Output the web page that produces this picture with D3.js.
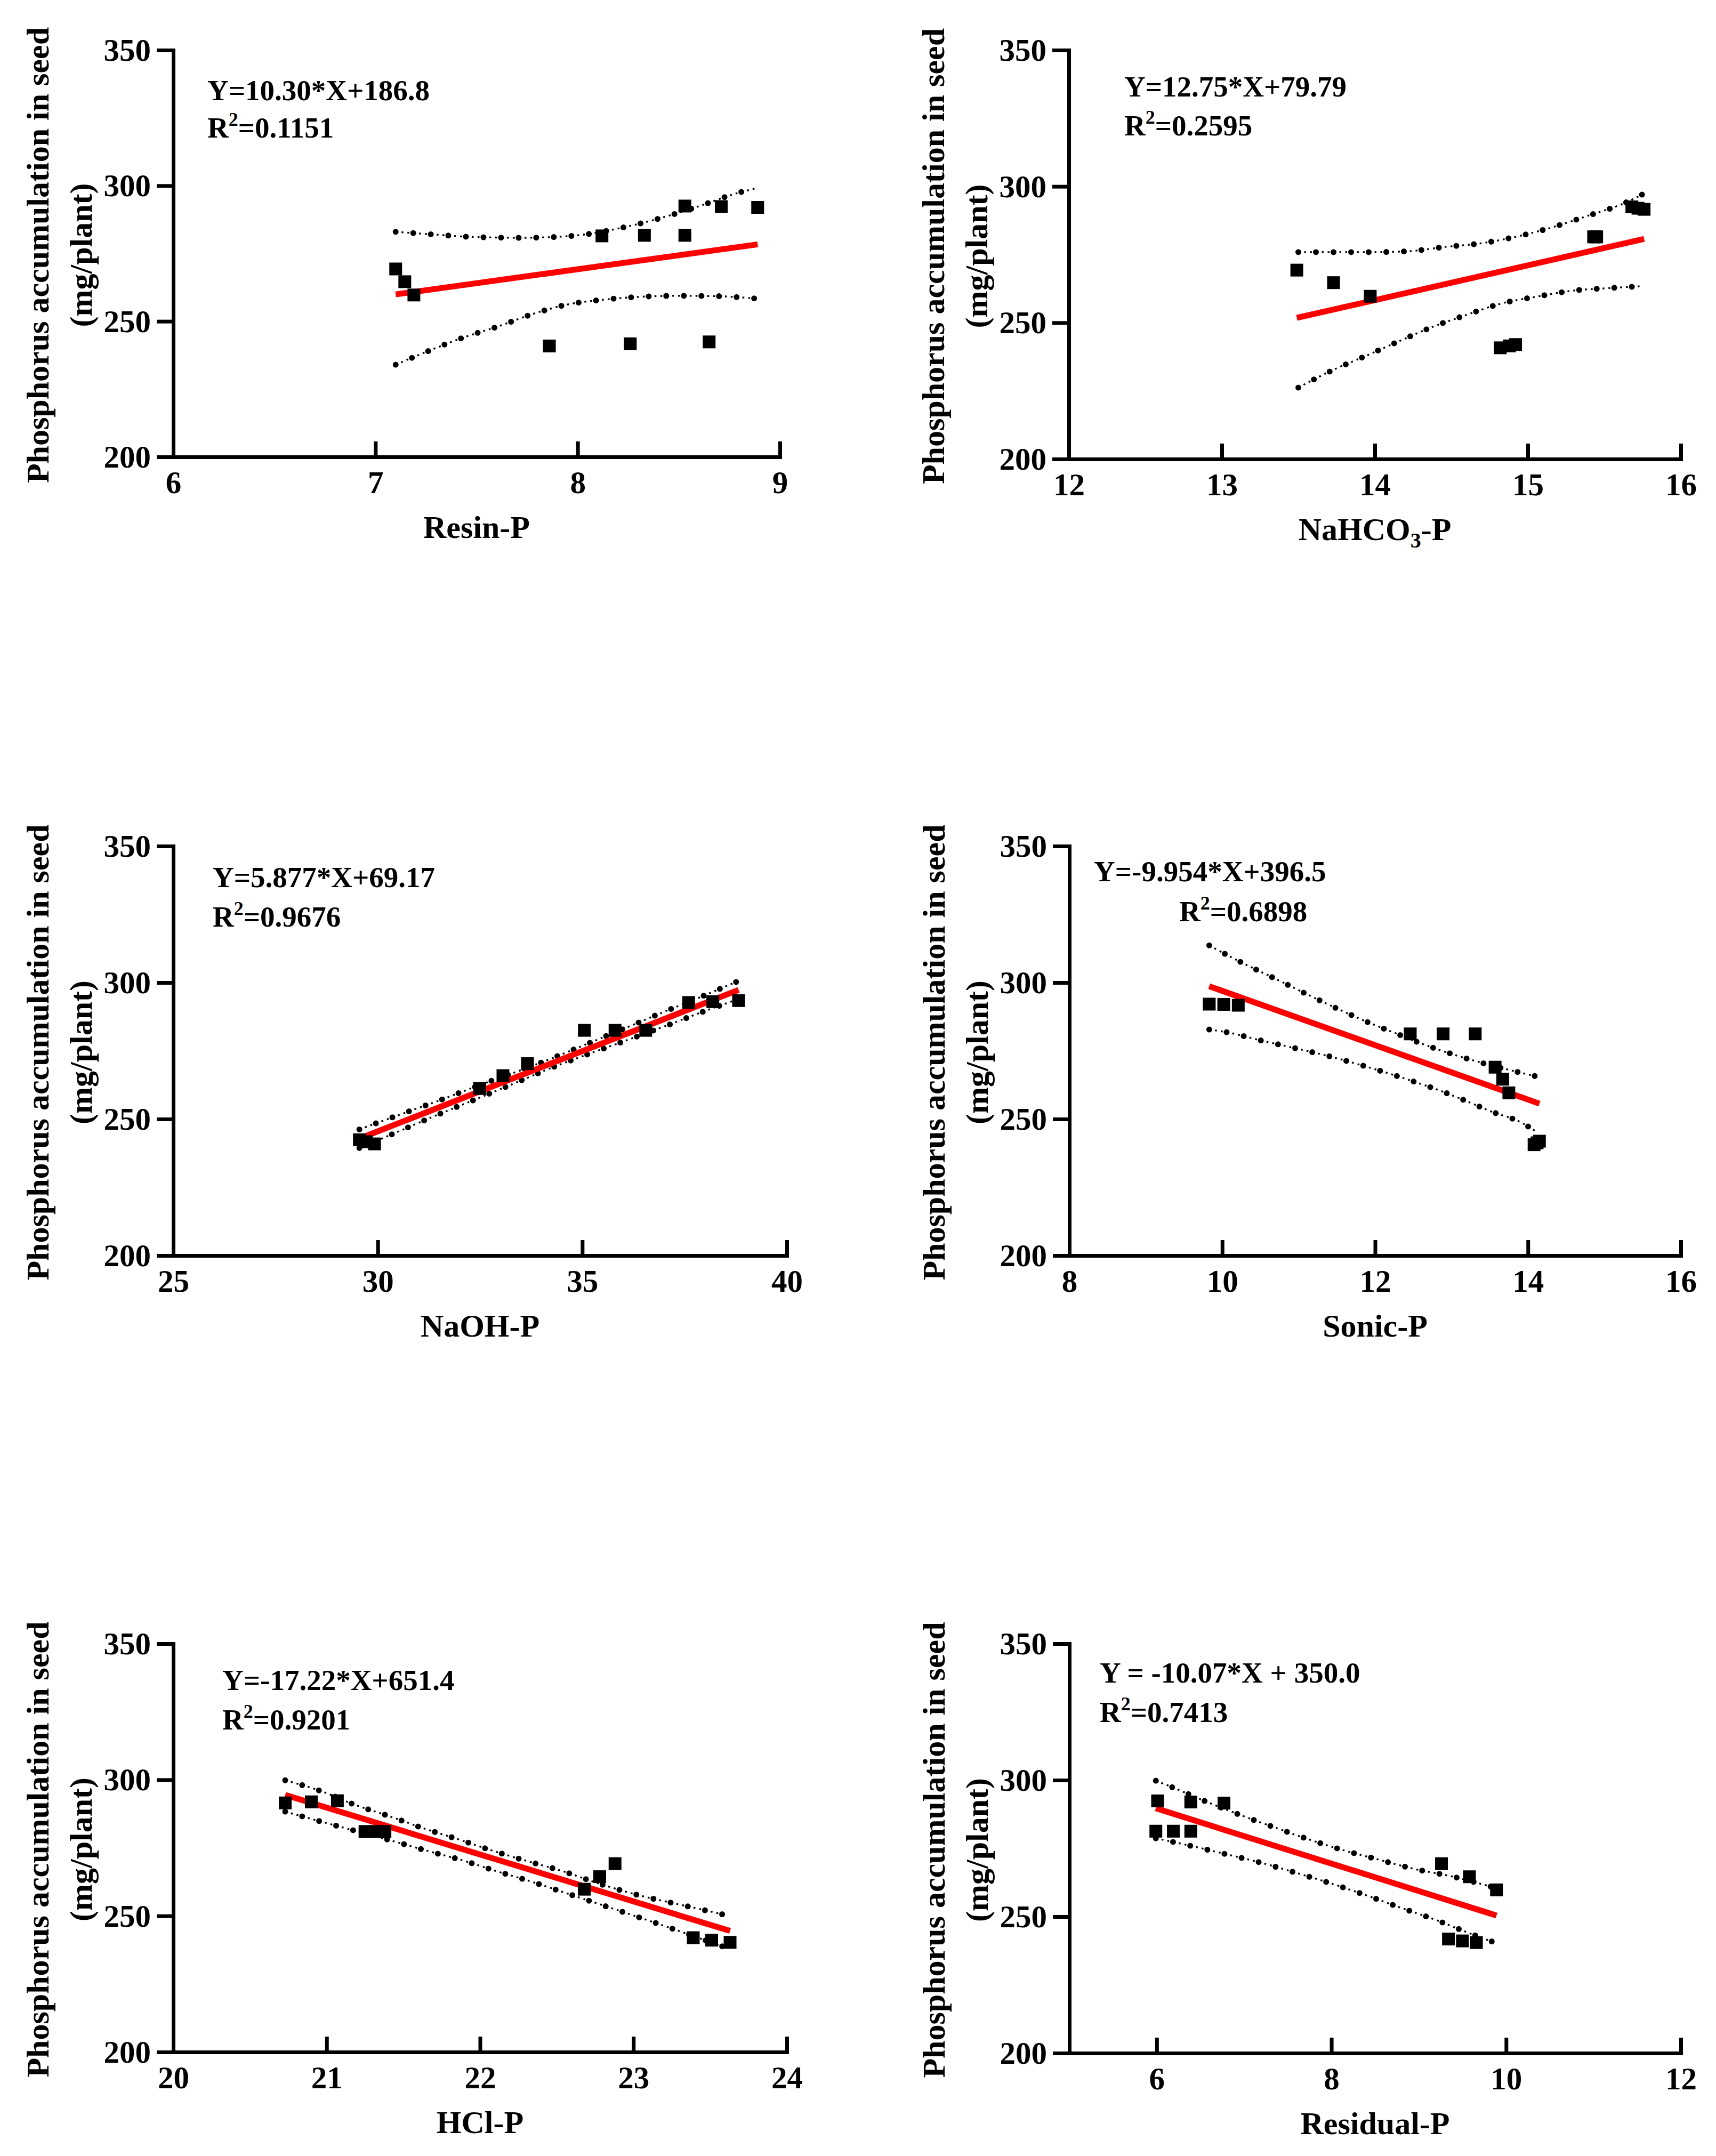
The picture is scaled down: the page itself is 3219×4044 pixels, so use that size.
<!DOCTYPE html>
<html>
<head>
<meta charset="utf-8">
<script src="https://cdn.jsdelivr.net/npm/d3@7"></script>
<style>
  html, body { margin: 0; padding: 0; background: #ffffff; }
  svg { display: block; }
  text { font-family: "Liberation Serif", "Times New Roman", serif; font-weight: bold; fill: #000; }
</style>
</head>
<body>
<script>
// ---------------- DATA ----------------
const yTitle1 = "Phosphorus accumulation in seed";
const yTitle2 = "(mg/plant)";
const xTitles = ["Resin-P", "NaHCO|3|-P", "NaOH-P", "Sonic-P", "HCl-P", "Residual-P"];
const yDomain = [200, 350];
const yTicks = [200, 250, 300, 350];
const xDomains = [[6, 9], [12, 16], [25, 40], [8, 16], [20, 24], [5, 12]];
const xTicks = [[6, 7, 8, 9], [12, 13, 14, 15, 16], [25, 30, 35, 40], [8, 10, 12, 14, 16], [20, 21, 22, 23, 24], [6, 8, 10, 12]];
const equations = ["Y=10.30*X+186.8", "Y=12.75*X+79.79", "Y=5.877*X+69.17", "Y=-9.954*X+396.5", "Y=-17.22*X+651.4", "Y = -10.07*X + 350.0"];
const r2Values = ["0.1151", "0.2595", "0.9676", "0.6898", "0.9201", "0.7413"];
const slopes = [10.30, 12.75, 5.877, -9.954, -17.22, -10.07];
const intercepts = [186.8, 79.79, 69.17, 396.5, 651.4, 350.0];

const pointsX = [
  [7.10, 7.145, 7.19, 7.86, 8.26, 8.65, 8.12, 8.33, 8.53, 8.53, 8.71, 8.89],
  [13.49, 13.73, 13.97, 14.82, 14.88, 14.92, 15.43, 15.44, 15.45, 15.68, 15.72, 15.76],
  [32.49, 33.06, 33.66, 29.55, 29.72, 29.92, 35.05, 35.80, 36.55, 37.60, 38.19, 38.82],
  [9.83, 10.02, 10.21, 12.46, 12.89, 13.31, 13.57, 13.67, 13.75, 14.08, 14.12, 14.15],
  [20.73, 20.90, 21.07, 21.25, 21.32, 21.38, 22.68, 22.78, 22.88, 23.39, 23.51, 23.63],
  [6.01, 6.39, 6.77, 5.99, 6.19, 6.39, 9.26, 9.58, 9.89, 9.34, 9.50, 9.66]
];
const pointsY = [
  [269.3, 264.6, 259.7, 240.9, 241.7, 242.4, 281.5, 281.7, 281.7, 292.5, 292.3, 292.0],
  [269.3, 264.7, 259.7, 240.8, 241.5, 242.0, 281.5, 281.5, 281.5, 292.5, 292.0, 291.6],
  [261.2, 265.9, 270.3, 242.4, 241.7, 240.9, 282.5, 282.5, 282.5, 292.7, 293.0, 293.4],
  [292.1, 292.0, 291.7, 281.2, 281.2, 281.2, 269.0, 264.6, 259.6, 240.6, 241.3, 241.9],
  [291.5, 291.9, 292.3, 281.0, 281.0, 281.0, 259.8, 264.4, 269.2, 242.0, 241.1, 240.3],
  [292.4, 292.0, 291.6, 281.3, 281.3, 281.3, 269.4, 264.6, 259.8, 241.8, 241.1, 240.5]
];

// 95% confidence bands
const upperBands = [
  [[7.10,283.0],[7.29,282.0],[7.45,281.2],[7.72,280.8],[7.91,281.2],[8.00,281.7],[8.26,285.2],[8.44,288.7],[8.61,292.7],[8.79,297.3],[8.88,299.0]],
  [[13.50,275.9],[13.74,275.9],[13.97,275.9],[14.21,276.2],[14.46,277.8],[14.69,279.1],[14.92,281.5],[15.16,285.0],[15.39,289.2],[15.62,293.6],[15.75,297.1]],
  [[29.55,246.2],[30.5,251.4],[31.5,256.8],[32.5,262.5],[33.5,267.9],[34.2,271.9],[35.0,276.8],[36.0,283.0],[37.0,289.3],[38.0,295.4],[38.82,300.6]],
  [[9.83,313.6],[10.25,307.4],[10.68,301.6],[11.11,295.7],[11.54,290.0],[11.98,284.6],[12.20,282.2],[12.64,277.3],[13.10,273.0],[13.33,271.1],[13.74,268.1],[14.13,265.5]],
  [[20.73,299.8],[20.98,295.5],[21.18,290.9],[21.41,286.6],[21.63,282.2],[21.86,278.1],[22.09,273.8],[22.31,270.1],[22.54,266.4],[22.78,261.8],[23.02,257.8],[23.25,254.8],[23.48,251.9],[23.61,250.2]],
  [[5.99,299.8],[6.17,297.5],[6.56,292.2],[6.95,287.3],[7.34,282.8],[7.74,278.3],[8.13,274.4],[8.54,270.9],[8.93,267.6],[9.37,264.8],[9.87,260.6]]
];
const lowerBands = [
  [[7.10,234.0],[7.27,239.3],[7.43,243.9],[7.61,248.2],[7.77,252.5],[7.95,256.2],[8.13,258.0],[8.30,259.0],[8.49,259.4],[8.67,259.3],[8.88,258.4]],
  [[13.50,226.2],[13.72,232.5],[13.94,237.8],[14.15,243.0],[14.37,248.3],[14.60,252.9],[14.83,257.1],[15.07,259.7],[15.30,261.8],[15.53,262.7],[15.75,263.4]],
  [[29.55,239.4],[30.5,245.4],[31.5,251.8],[32.5,257.9],[33.5,264.1],[34.2,268.5],[35.0,273.0],[36.0,278.4],[37.0,283.9],[38.0,289.6],[38.82,294.0]],
  [[9.83,282.8],[10.06,281.8],[10.52,278.7],[10.98,275.8],[11.44,272.7],[11.91,269.0],[12.37,265.0],[12.82,260.7],[13.27,255.7],[13.49,253.1],[13.92,248.6],[14.13,245.0]],
  [[20.73,288.3],[20.96,284.7],[21.19,281.2],[21.42,277.7],[21.65,274.0],[21.88,270.5],[22.11,266.4],[22.34,262.5],[22.56,258.4],[22.79,254.1],[23.03,249.6],[23.27,245.0],[23.48,240.8],[23.61,238.2]],
  [[5.99,278.7],[6.38,276.0],[6.79,272.9],[7.20,269.7],[7.60,266.0],[8.00,262.1],[8.40,257.8],[8.79,253.3],[9.21,248.6],[9.59,243.8],[9.87,240.5]]
];

// ---------------- LAYOUT ----------------
const W = 3219, H = 4044;
const layout = [
  { x0: 325,  x1: 1463, y0: 94,   y1: 857,  eqX: 389,  eqY: 188,  r2X: 389,  r2Y: 258 },
  { x0: 2005, x1: 3153, y0: 94,   y1: 861,  eqX: 2109, eqY: 181,  r2X: 2109, r2Y: 254 },
  { x0: 325,  x1: 1476, y0: 1587, y1: 2355, eqX: 399,  eqY: 1664, r2X: 399,  r2Y: 1738 },
  { x0: 2006, x1: 3153, y0: 1587, y1: 2355, eqX: 2052, eqY: 1653, r2X: 2212, r2Y: 1728 },
  { x0: 325,  x1: 1476, y0: 3083, y1: 3849, eqX: 417,  eqY: 3170, r2X: 417,  r2Y: 3244 },
  { x0: 2006, x1: 3153, y0: 3083, y1: 3851, eqX: 2063, eqY: 3156, r2X: 2063, r2Y: 3230 }
];

const svg = d3.select("body").append("svg")
  .attr("width", W).attr("height", H).attr("viewBox", `0 0 ${W} ${H}`);
svg.append("rect").attr("width", W).attr("height", H).attr("fill", "#fff");

const AXIS_W = 7;
const TICK_FS = 59;
const TITLE_FS = 60;
const EQ_FS = 55;
const SQ = 24;

layout.forEach((L, i) => {
  const g = svg.append("g");
  const x = d3.scaleLinear().domain(xDomains[i]).range([L.x0, L.x1]);
  const y = d3.scaleLinear().domain(yDomain).range([L.y1, L.y0]);

  // confidence bands (dotted)
  const line = d3.line().x(d => x(d[0])).y(d => y(d[1])).curve(d3.curveMonotoneX);
  [upperBands[i], lowerBands[i]].forEach(band => {
    g.append("path").attr("d", line(band))
      .attr("fill", "none").attr("stroke", "#000")
      .attr("stroke-width", 3.4).attr("stroke-dasharray", "3.5 7.5");
    g.append("path").attr("d", line(band))
      .attr("fill", "none").attr("stroke", "#000")
      .attr("stroke-width", 11).attr("stroke-linecap", "round")
      .attr("stroke-dasharray", "0 33");
  });

  // regression line
  const xs = pointsX[i];
  const xmin = d3.min(xs), xmax = d3.max(xs);
  const fit = v => slopes[i] * v + intercepts[i];
  g.append("line")
    .attr("x1", x(xmin)).attr("y1", y(fit(xmin)))
    .attr("x2", x(xmax)).attr("y2", y(fit(xmax)))
    .attr("stroke", "#ff0000").attr("stroke-width", 11);

  // points
  g.selectAll("rect.pt").data(xs.map((v, k) => [v, pointsY[i][k]])).join("rect")
    .attr("class", "pt")
    .attr("x", d => x(d[0]) - SQ / 2).attr("y", d => y(d[1]) - SQ / 2)
    .attr("width", SQ).attr("height", SQ).attr("fill", "#000");

  // y axis
  const ya = g.append("g").attr("transform", `translate(${L.x0},0)`)
    .call(d3.axisLeft(y).tickValues(yTicks).tickSize(31).tickSizeOuter(0).tickPadding(11).tickFormat(d3.format("d")));
  ya.select(".domain").attr("stroke-width", AXIS_W).attr("stroke-linecap", "square");
  ya.selectAll(".tick line").attr("stroke-width", AXIS_W);
  ya.selectAll(".tick text").attr("font-size", TICK_FS).attr("font-family", "Liberation Serif").attr("font-weight", "bold").attr("dy", "0.33em");

  // x axis
  const xa = g.append("g").attr("transform", `translate(0,${L.y1})`)
    .call(d3.axisBottom(x).tickValues(xTicks[i]).tickSize(-29).tickSizeOuter(0).tickPadding(26).tickFormat(d3.format("d")));
  xa.select(".domain").attr("stroke-width", AXIS_W).attr("stroke-linecap", "square");
  xa.selectAll(".tick line").attr("stroke-width", AXIS_W);
  xa.selectAll(".tick text").attr("font-size", TICK_FS).attr("font-family", "Liberation Serif").attr("font-weight", "bold");
  svg.selectAll(".domain").attr("stroke", "#000");

  // x title (with optional subscript)
  const parts = xTitles[i].split("|");
  const xt = g.append("text")
    .attr("x", (L.x0 + L.x1) / 2).attr("y", L.y1 + 152)
    .attr("text-anchor", "middle").attr("font-size", TITLE_FS);
  parts.forEach((p, k) => {
    const ts = xt.append("tspan").text(p);
    if (k === 1) ts.attr("font-size", 40).attr("dy", 14);
    if (k === 2) ts.attr("dy", -14);
  });

  // y title (two lines, rotated)
  const cy = (L.y0 + L.y1) / 2 + 3;
  [[yTitle1, L.x0 - 255], [yTitle2, L.x0 - 174]].forEach(([t, cx]) => {
    g.append("text")
      .attr("transform", `translate(${cx},${cy}) rotate(-90)`)
      .attr("text-anchor", "middle").attr("dy", "0.35em")
      .attr("font-size", TITLE_FS).text(t);
  });

  // equation + R2
  g.append("text").attr("x", L.eqX).attr("y", L.eqY).attr("font-size", EQ_FS).text(equations[i]);
  const r = g.append("text").attr("x", L.r2X).attr("y", L.r2Y).attr("font-size", EQ_FS);
  r.append("tspan").text("R");
  r.append("tspan").text("2").attr("font-size", 36).attr("dy", -22);
  r.append("tspan").text("=" + r2Values[i]).attr("dy", 22);
});
</script>
</body>
</html>
